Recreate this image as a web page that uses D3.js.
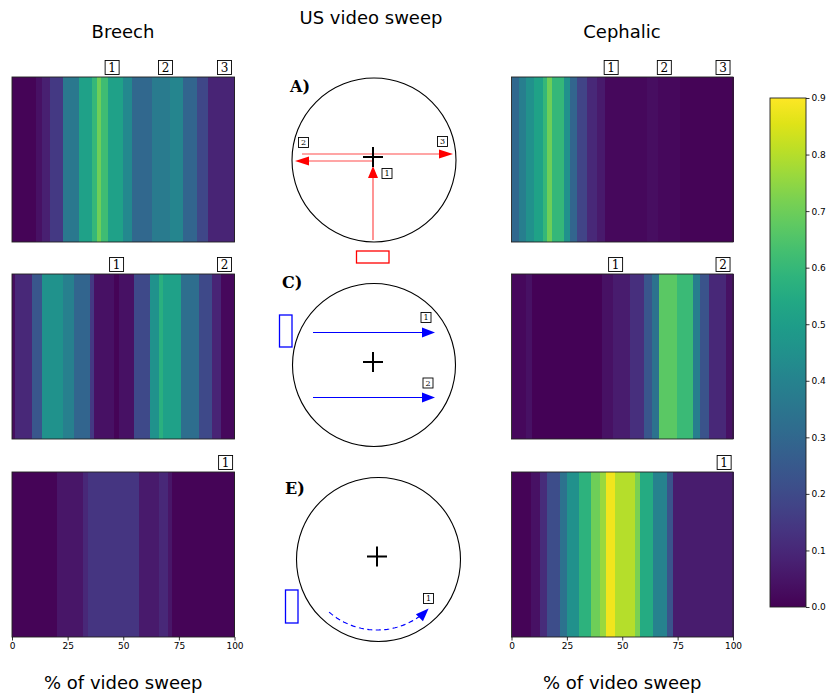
<!DOCTYPE html>
<html>
<head>
<meta charset="utf-8">
<script src="https://cdn.jsdelivr.net/npm/d3@7"></script>
<style>
  body { margin: 0; background: #fff; }
  svg { display: block; }
  text { font-family: "DejaVu Sans", sans-serif; }
</style>
</head>
<body>
<svg id="fig" width="830" height="693"></svg>
<script>
// ---- data: attention per segment of the sweep (edges in % of sweep, one value per segment)
const breechA_edges = [0, 11, 13.5, 17, 23, 30, 36, 38, 40, 43, 50, 54, 63, 71, 77, 83, 88, 100];
const breechA_vals  = [0.01, 0.04, 0.08, 0.15, 0.36, 0.51, 0.6, 0.7, 0.62, 0.51, 0.42, 0.3, 0.37, 0.41, 0.29, 0.19, 0.09];

const breechC_edges = [0, 1.5, 9, 13.4, 23, 28, 35, 37, 46, 48, 55, 62, 66, 68, 76, 84, 90, 94, 100];
const breechC_vals  = [0.03, 0.1, 0.24, 0.46, 0.39, 0.29, 0.15, 0.04, 0.01, 0.04, 0.2, 0.46, 0.57, 0.51, 0.32, 0.2, 0.09, 0.02];

const breechE_edges = [0, 20, 32, 34, 57, 66, 70, 72, 100];
const breechE_vals  = [0.01, 0.05, 0.1, 0.14, 0.06, 0.1, 0.05, 0.01];

const cephA_edges = [0, 3.4, 6.4, 10, 14, 16, 18.4, 23.6, 26.6, 29.6, 34, 38.6, 42, 61, 66, 76, 100];
const cephA_vals  = [0.3, 0.38, 0.45, 0.52, 0.6, 0.7, 0.6, 0.45, 0.29, 0.18, 0.1, 0.06, 0.02, 0.035, 0.02, 0.01];

const cephC_edges = [0, 6.4, 9.3, 41, 46, 53.6, 59.6, 63.4, 66.5, 74.8, 82, 85, 89, 97, 100];
const cephC_vals  = [0.02, 0.04, 0.005, 0.04, 0.07, 0.12, 0.24, 0.34, 0.67, 0.61, 0.38, 0.23, 0.1, 0.04];

const cephE_edges = [0, 8.7, 12.9, 16, 21.8, 25, 30.5, 36, 40, 42.8, 46.9, 55.8, 58, 64, 70, 73, 100];
const cephE_vals  = [0.01, 0.04, 0.11, 0.21, 0.34, 0.45, 0.58, 0.7, 0.76, 0.88, 0.8, 0.72, 0.55, 0.4, 0.23, 0.07];

// step markers above each panel (position in % of sweep)
const stepsA = [45, 69, 95.5];
const stepsC = [47, 95.5];
const stepsE = [96];

const xTicks = [0, 25, 50, 75, 100];
const cbTicks = [0, 0.1, 0.2, 0.3, 0.4, 0.5, 0.6, 0.7, 0.8, 0.9];
const cbMax = 0.9;

// ---- layout
const svg = d3.select("#fig");
const color = d3.scaleSequential(d3.interpolateViridis).domain([0, cbMax]);

const colX = [[12, 234.5], [511.5, 733]];
const rowY = [[77, 242], [274, 439], [472, 637]];

const panels = [
  { col: 0, row: 0, edges: breechA_edges, vals: breechA_vals, steps: stepsA },
  { col: 0, row: 1, edges: breechC_edges, vals: breechC_vals, steps: stepsC },
  { col: 0, row: 2, edges: breechE_edges, vals: breechE_vals, steps: stepsE },
  { col: 1, row: 0, edges: cephA_edges, vals: cephA_vals, steps: stepsA },
  { col: 1, row: 1, edges: cephC_edges, vals: cephC_vals, steps: stepsC },
  { col: 1, row: 2, edges: cephE_edges, vals: cephE_vals, steps: stepsE }
];

function stepBox(g, cx, cy, label, size, fontSize) {
  g.append("rect")
    .attr("x", cx - size / 2).attr("y", cy - size / 2)
    .attr("width", size).attr("height", size)
    .attr("fill", "#fff").attr("stroke", "#000").attr("stroke-width", 0.9);
  g.append("text")
    .attr("x", cx).attr("y", cy + fontSize * 0.36)
    .attr("text-anchor", "middle")
    .style("font-family", "'DejaVu Serif', serif")
    .style("font-size", fontSize + "px")
    .text(label);
}

panels.forEach(p => {
  const x = d3.scaleLinear().domain([0, 100]).range(colX[p.col]);
  const [y0, y1] = rowY[p.row];
  const g = svg.append("g");
  const segs = p.vals.map((v, i) => ({ a: p.edges[i], b: p.edges[i + 1], v }));
  g.selectAll("rect.seg").data(segs).join("rect")
    .attr("class", "seg")
    .attr("x", d => x(d.a))
    .attr("width", d => x(d.b) - x(d.a) + 0.6)
    .attr("y", y0).attr("height", y1 - y0)
    .attr("fill", d => color(d.v))
    .attr("shape-rendering", "crispEdges");
  g.append("rect")
    .attr("x", x(0)).attr("y", y0)
    .attr("width", x(100) - x(0)).attr("height", y1 - y0)
    .attr("fill", "none").attr("stroke", "#222").attr("stroke-width", 0.9);

  p.steps.forEach((s, i) => stepBox(g, x(s), y0 - 9.5, String(i + 1), 14, 12));

  if (p.row === 2) {
    const ax = g.append("g")
      .attr("transform", `translate(0,${y1})`)
      .call(d3.axisBottom(x).tickValues(xTicks).tickSize(3.5).tickPadding(2));
    ax.select(".domain").remove();
    ax.selectAll("text").style("font-size", "9px").style("font-family", "'DejaVu Sans', sans-serif").attr("fill", "#000");
    ax.selectAll("line").attr("stroke", "#000").attr("stroke-width", 0.8);
    svg.append("text")
      .attr("x", (colX[p.col][0] + colX[p.col][1]) / 2).attr("y", 689)
      .attr("text-anchor", "middle").style("font-size", "18px")
      .text("% of video sweep");
  }
});

// column titles
svg.append("text").attr("x", 123).attr("y", 38).attr("text-anchor", "middle")
  .style("font-size", "18px").text("Breech");
svg.append("text").attr("x", 622).attr("y", 38).attr("text-anchor", "middle")
  .style("font-size", "18px").text("Cephalic");
svg.append("text").attr("x", 371).attr("y", 24).attr("text-anchor", "middle")
  .style("font-size", "18px").text("US video sweep");

// ---- colour bar
const cbX = 770, cbW = 36, cbTop = 98, cbBot = 607;
const cbScale = d3.scaleLinear().domain([0, cbMax]).range([cbBot, cbTop]);
const defs = svg.append("defs");
const grad = defs.append("linearGradient").attr("id", "cbgrad")
  .attr("x1", 0).attr("y1", 1).attr("x2", 0).attr("y2", 0);
d3.range(0, 1.0001, 0.05).forEach(t => {
  grad.append("stop").attr("offset", t).attr("stop-color", d3.interpolateViridis(t));
});
svg.append("rect").attr("x", cbX).attr("y", cbTop).attr("width", cbW).attr("height", cbBot - cbTop)
  .attr("fill", "url(#cbgrad)").attr("stroke", "#222").attr("stroke-width", 0.9);
const cbAxis = svg.append("g").attr("transform", `translate(${cbX + cbW},0)`)
  .call(d3.axisRight(cbScale).tickValues(cbTicks).tickFormat(d3.format(".1f")).tickSize(3.5).tickPadding(2));
cbAxis.select(".domain").remove();
cbAxis.selectAll("text").style("font-size", "9px").attr("fill", "#000");
cbAxis.selectAll("line").attr("stroke", "#000").attr("stroke-width", 0.8);

// ---- sweep diagrams
function arrowHead(g, tipX, tipY, angle, len, wid, fill) {
  const bx = tipX - len * Math.cos(angle), by = tipY - len * Math.sin(angle);
  const px = -Math.sin(angle) * wid / 2, py = Math.cos(angle) * wid / 2;
  g.append("path")
    .attr("d", `M${tipX},${tipY}L${bx + px},${by + py}L${bx - px},${by - py}Z`)
    .attr("fill", fill);
}
function plus(g, cx, cy) {
  g.append("path").attr("d", `M${cx - 10},${cy}H${cx + 10}M${cx},${cy - 10}V${cy + 10}`)
    .attr("stroke", "#000").attr("stroke-width", 2);
}
function circle(g, cx, cy, r) {
  g.append("circle").attr("cx", cx).attr("cy", cy).attr("r", r)
    .attr("fill", "none").attr("stroke", "#000").attr("stroke-width", 1.1);
}
function panelLetter(g, x, y, t) {
  g.append("text").attr("x", x).attr("y", y)
    .style("font-family", "'DejaVu Serif', serif").style("font-weight", "bold")
    .style("font-size", "16px").text(t);
}

// A) rotation across the abdomen
{
  const g = svg.append("g");
  const red = "#ff0000";
  panelLetter(g, 290, 92, "A)");
  circle(g, 374, 160, 82);
  g.append("line").attr("x1", 373).attr("y1", 240).attr("x2", 373).attr("y2", 176)
    .attr("stroke", red).attr("stroke-opacity", 0.7).attr("stroke-width", 1.2);
  arrowHead(g, 373, 166, -Math.PI / 2, 12, 10, red);
  g.append("line").attr("x1", 373).attr("y1", 161).attr("x2", 306).attr("y2", 161)
    .attr("stroke", red).attr("stroke-opacity", 0.7).attr("stroke-width", 1.2);
  arrowHead(g, 295, 161, Math.PI, 14, 9, red);
  g.append("line").attr("x1", 302).attr("y1", 154).attr("x2", 442).attr("y2", 154)
    .attr("stroke", red).attr("stroke-opacity", 0.7).attr("stroke-width", 1.2);
  arrowHead(g, 453, 154, 0, 14, 9, red);
  plus(g, 373, 157);
  stepBox(g, 387, 173.5, "1", 10, 8);
  stepBox(g, 303.5, 142.5, "2", 10, 8);
  stepBox(g, 442.5, 141.5, "3", 10, 8);
  g.append("rect").attr("x", 356.5).attr("y", 251).attr("width", 32.5).attr("height", 12)
    .attr("fill", "none").attr("stroke", red).attr("stroke-width", 1.3);
}

// C) two transverse passes
{
  const g = svg.append("g");
  const blue = "#0000ff";
  panelLetter(g, 282, 288, "C)");
  circle(g, 374, 365, 81.5);
  plus(g, 373, 362);
  [332.5, 397.5].forEach(yy => {
    g.append("line").attr("x1", 313).attr("y1", yy).attr("x2", 425).attr("y2", yy)
      .attr("stroke", blue).attr("stroke-width", 1.2);
    arrowHead(g, 435, yy, 0, 13, 10, blue);
  });
  stepBox(g, 426, 317.5, "1", 10, 8);
  stepBox(g, 428, 383, "2", 10, 8);
  g.append("rect").attr("x", 279.5).attr("y", 315).attr("width", 12.5).attr("height", 32)
    .attr("fill", "none").attr("stroke", blue).attr("stroke-width", 1.3);
}

// E) curved pass along the lower edge
{
  const g = svg.append("g");
  const blue = "#0000ff";
  panelLetter(g, 285, 494, "E)");
  circle(g, 378.5, 559.5, 82);
  plus(g, 377, 556.5);
  const cx = 377, cy = 557, r = 73;
  const a0 = 131 * Math.PI / 180, a1 = 52 * Math.PI / 180;
  const pts = d3.range(0, 1.0001, 0.02).map(t => {
    const a = a0 + (a1 - a0) * t;
    return [cx + r * Math.cos(a), cy + r * Math.sin(a)];
  });
  g.append("path").attr("d", d3.line()(pts))
    .attr("fill", "none").attr("stroke", blue).attr("stroke-width", 1.2)
    .attr("stroke-dasharray", "5,3.5");
  const at = 45 * Math.PI / 180;
  const tipX = cx + r * Math.cos(at), tipY = cy + r * Math.sin(at);
  arrowHead(g, tipX, tipY, at - Math.PI / 2, 13, 10, blue);
  stepBox(g, 428.5, 598.5, "1", 10, 8);
  g.append("rect").attr("x", 285.5).attr("y", 590).attr("width", 12.5).attr("height", 33)
    .attr("fill", "none").attr("stroke", blue).attr("stroke-width", 1.3);
}
</script>
</body>
</html>
